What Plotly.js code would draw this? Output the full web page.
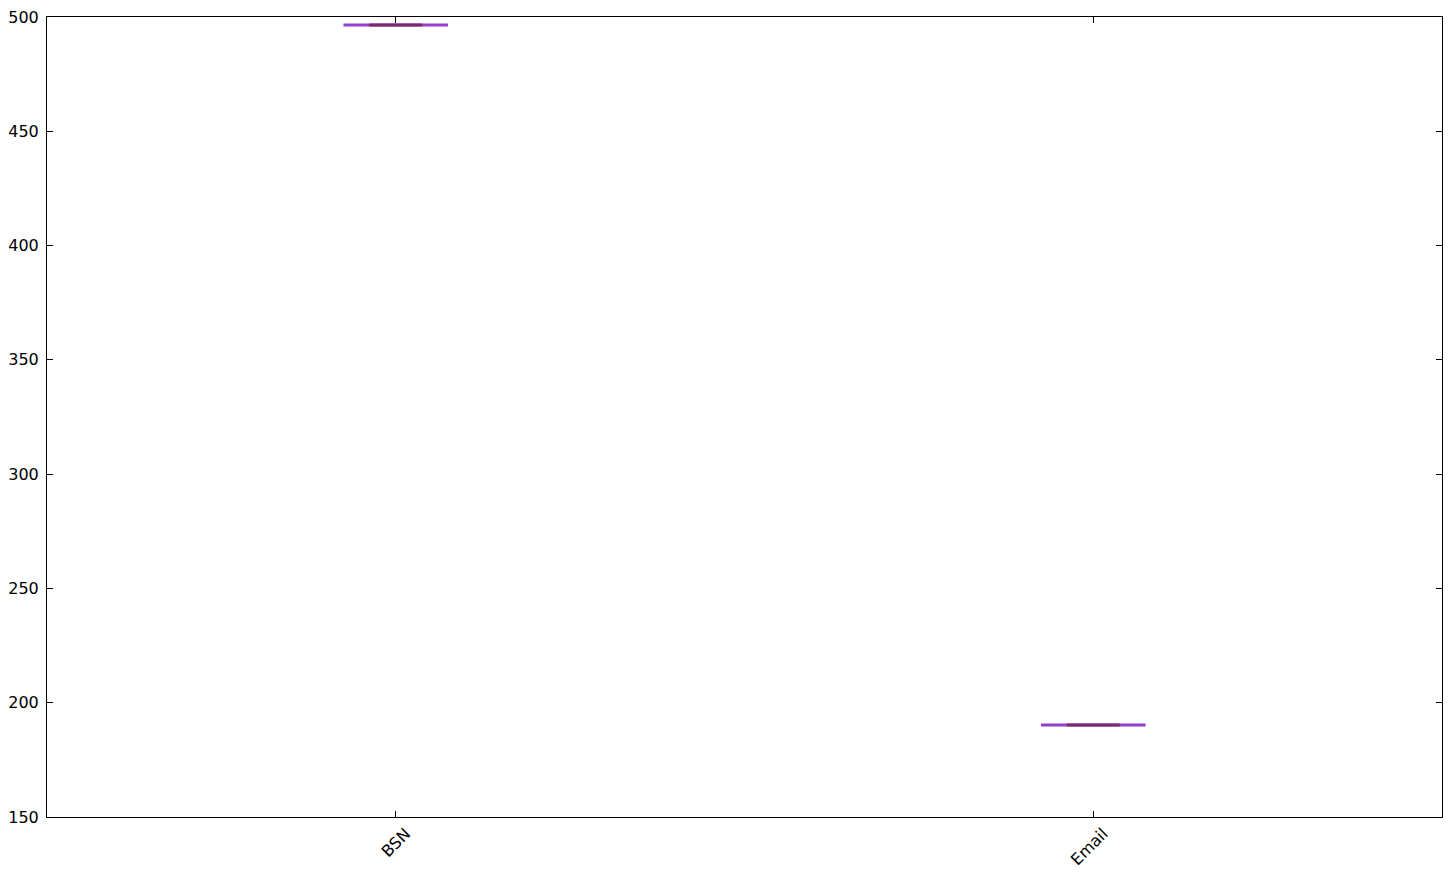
<!DOCTYPE html>
<html>
<head>
<meta charset="utf-8">
<script src="https://cdn.plot.ly/plotly-3.0.1.min.js"></script>
<style>html,body{margin:0;padding:0;background:#fff;}#chart{width:1452px;height:876px;}</style>
</head>
<body>
<div id="chart"></div>
<script>
const categories = ["BSN", "Email"];
const positions = [1, 2];
const values = [496.5, 190.2];
const yTicks = [150, 200, 250, 300, 350, 400, 450, 500];

function boxTrace(width, color, lw) {
  return {
    type: 'box',
    x: positions,
    q1: values, median: values, q3: values,
    lowerfence: values, upperfence: values,
    width: width,
    whiskerwidth: 1,
    fillcolor: 'rgba(0,0,0,0)',
    line: {color: color, width: lw},
    boxpoints: false,
    hoverinfo: 'skip',
    showlegend: false
  };
}

const data = [
  boxTrace(0.15, '#9040cc', 3),
  boxTrace(0.076, '#7a2b6e', 3)
];

const font = {family: 'DejaVu Sans, sans-serif', size: 16, color: '#000'};
const layout = {
  width: 1452, height: 876,
  margin: {l: 47, r: 10, t: 17, b: 59},
  paper_bgcolor: '#fff', plot_bgcolor: '#fff',
  font: font,
  showlegend: false,
  xaxis: {
    range: [0.5, 2.5],
    tickmode: 'array', tickvals: positions, ticktext: categories,
    tickangle: -45,
    ticklabelshift: 10,
    ticks: 'inside', ticklen: 6, tickcolor: '#000', tickwidth: 1,
    showline: true, linecolor: '#000', linewidth: 1, mirror: 'allticks',
    showgrid: false, zeroline: false,
    tickfont: font
  },
  yaxis: {
    range: [150, 500],
    tickmode: 'array', tickvals: yTicks, ticktext: yTicks.map(String),
    ticks: 'inside', ticklen: 6, tickcolor: '#000', tickwidth: 1,
    ticklabelstandoff: 4,
    showline: true, linecolor: '#000', linewidth: 1, mirror: 'allticks',
    showgrid: false, zeroline: false,
    tickfont: font
  }
};

Plotly.newPlot('chart', data, layout, {displayModeBar: false, staticPlot: true});
</script>
</body>
</html>
